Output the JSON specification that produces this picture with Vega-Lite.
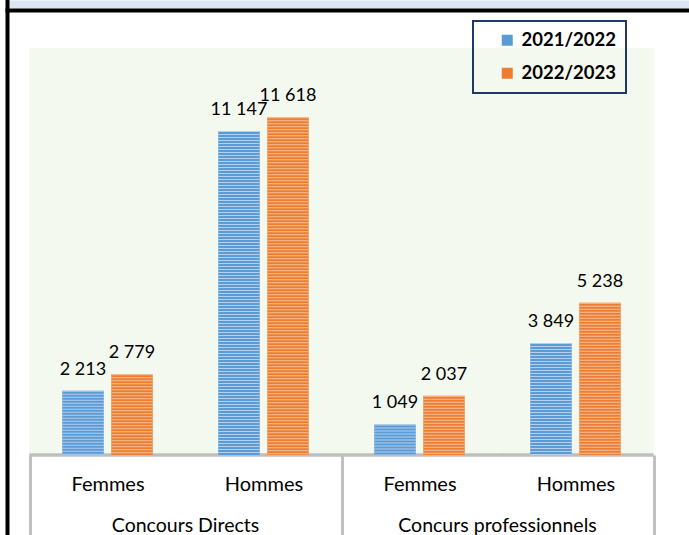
{
  "$schema": "https://vega.github.io/schema/vega-lite/v6.json",
  "width": 682,
  "height": 535,
  "autosize": {"type": "none"},
  "padding": {"left": 7, "top": 0, "right": 0, "bottom": 0},
  "background": "#ffffff",
  "data": {
    "values": [
      {"cat": "Concours Directs|Femmes", "annee": "2021/2022", "valeur": 2213},
      {"cat": "Concours Directs|Femmes", "annee": "2022/2023", "valeur": 2779},
      {"cat": "Concours Directs|Hommes", "annee": "2021/2022", "valeur": 11147},
      {"cat": "Concours Directs|Hommes", "annee": "2022/2023", "valeur": 11618},
      {"cat": "Concurs professionnels|Femmes", "annee": "2021/2022", "valeur": 1049},
      {"cat": "Concurs professionnels|Femmes", "annee": "2022/2023", "valeur": 2037},
      {"cat": "Concurs professionnels|Hommes", "annee": "2021/2022", "valeur": 3849},
      {"cat": "Concurs professionnels|Hommes", "annee": "2022/2023", "valeur": 5238}
    ]
  },
  "resolve": {"axis": {"x": "independent"}},
  "layer": [
    {
      "mark": {"type": "rect", "color": "#f4f9f0"},
      "encoding": {
        "x": {
          "field": "cat", "type": "nominal",
          "scale": {"type": "band", "paddingInner": 0, "paddingOuter": 0.1859, "align": 0.388},
          "axis": {
            "orient": "bottom", "offset": -80, "domain": false, "grid": false,
            "ticks": true, "tickBand": "extent", "tickSize": 80, "tickWidth": 3, "tickColor": "#c0c0c0",
            "tickOpacity": {"condition": {"test": "datum.value === 'Concours Directs|Femmes' || datum.value === 'Concurs professionnels|Femmes'", "value": 0}, "value": 1},
            "labelExpr": "split(datum.label, '|')[1]",
            "labelFont": "Lato", "labelFontSize": 20, "labelColor": "#000000",
            "labelBaseline": "alphabetic", "labelPadding": -45, "labelAngle": 0, "labelLimit": 0,
            "title": null, "zindex": 1
          }
        },
        "y": {
          "datum": 0, "type": "quantitative",
          "scale": {"domain": [-2752, 15651], "nice": false, "zero": false},
          "axis": {
            "orient": "left", "offset": 0, "domain": true, "domainColor": "#000000", "domainWidth": 4,
            "domainCap": "square", "ticks": false, "labels": false, "grid": false, "title": null, "zindex": 2
          }
        },
        "y2": {"datum": 14000}
      }
    },
    {
      "mark": {"type": "tick", "color": "#bfbfbf", "thickness": 3, "size": 156, "opacity": 1},
      "encoding": {
        "x": {
          "field": "cat", "type": "nominal",
          "axis": {
            "orient": "bottom", "offset": -80, "domain": false, "ticks": false, "grid": false,
            "labelOffset": 78,
            "labelExpr": "indexof(datum.label, 'Femmes') >= 0 ? split(datum.label, '|')[0] : ''",
            "labelFont": "Lato", "labelFontSize": 19.5, "labelColor": "#000000",
            "labelBaseline": "alphabetic", "labelPadding": 76, "labelAngle": 0, "labelLimit": 0,
            "title": null, "zindex": 1
          }
        },
        "y": {"datum": 0, "type": "quantitative"}
      }
    },
    {
      "mark": {"type": "bar"},
      "encoding": {
        "x": {
          "field": "cat", "type": "nominal",
          "axis": {
            "orient": "top", "offset": -10, "domain": true, "domainColor": "#000000", "domainWidth": 4,
            "domainCap": "square", "ticks": false, "labels": false, "grid": false, "title": null, "zindex": 1
          }
        },
        "xOffset": {"field": "annee", "type": "nominal", "scale": {"paddingInner": 0.153, "paddingOuter": 0.668}},
        "y": {"field": "valeur", "type": "quantitative"},
        "color": {
          "field": "annee", "type": "nominal",
          "scale": {"range": ["#5b9bd5", "#ed7d31"]},
          "legend": {
            "orient": "none", "legendX": 466, "legendY": 21, "title": null, "direction": "vertical",
            "padding": 10, "strokeColor": "#203864",
            "symbolType": "square", "symbolSize": 121, "symbolStrokeWidth": 0, "symbolOffset": 15,
            "labelOffset": 5, "labelFont": "Lato", "labelFontWeight": "bold", "labelFontSize": 18.5,
            "labelColor": "#000000", "rowPadding": 14
          }
        }
      }
    },
    {
      "mark": {"type": "rule", "strokeWidth": 41.5, "strokeDash": [1, 2], "strokeCap": "butt"},
      "encoding": {
        "x": {
          "field": "cat", "type": "nominal",
          "axis": {
            "orient": "top", "offset": -4, "domain": true, "domainColor": "#dce6f2", "domainWidth": 8,
            "ticks": false, "labels": false, "grid": false, "title": null, "zindex": 0
          }
        },
        "xOffset": {"field": "annee", "type": "nominal"},
        "y": {"field": "valeur", "type": "quantitative"},
        "y2": {"datum": 0},
        "stroke": {
          "field": "annee", "type": "nominal",
          "scale": {"range": ["#b4cff0", "#f7c19c"]},
          "legend": null
        }
      }
    },
    {
      "mark": {"type": "text", "baseline": "alphabetic", "dy": -16, "fontSize": 18, "font": "Lato", "color": "#000000"},
      "encoding": {
        "x": {"field": "cat", "type": "nominal", "axis": null},
        "xOffset": {"field": "annee", "type": "nominal"},
        "y": {"field": "valeur", "type": "quantitative"},
        "text": {"field": "valeur", "type": "quantitative", "format": ",d"}
      }
    }
  ],
  "config": {
    "font": "Lato",
    "view": {"stroke": null},
    "legend": {"strokeWidth": 2},
    "locale": {"number": {"decimal": ",", "thousands": " ", "grouping": [3], "currency": ["", " €"]}}
  }
}
